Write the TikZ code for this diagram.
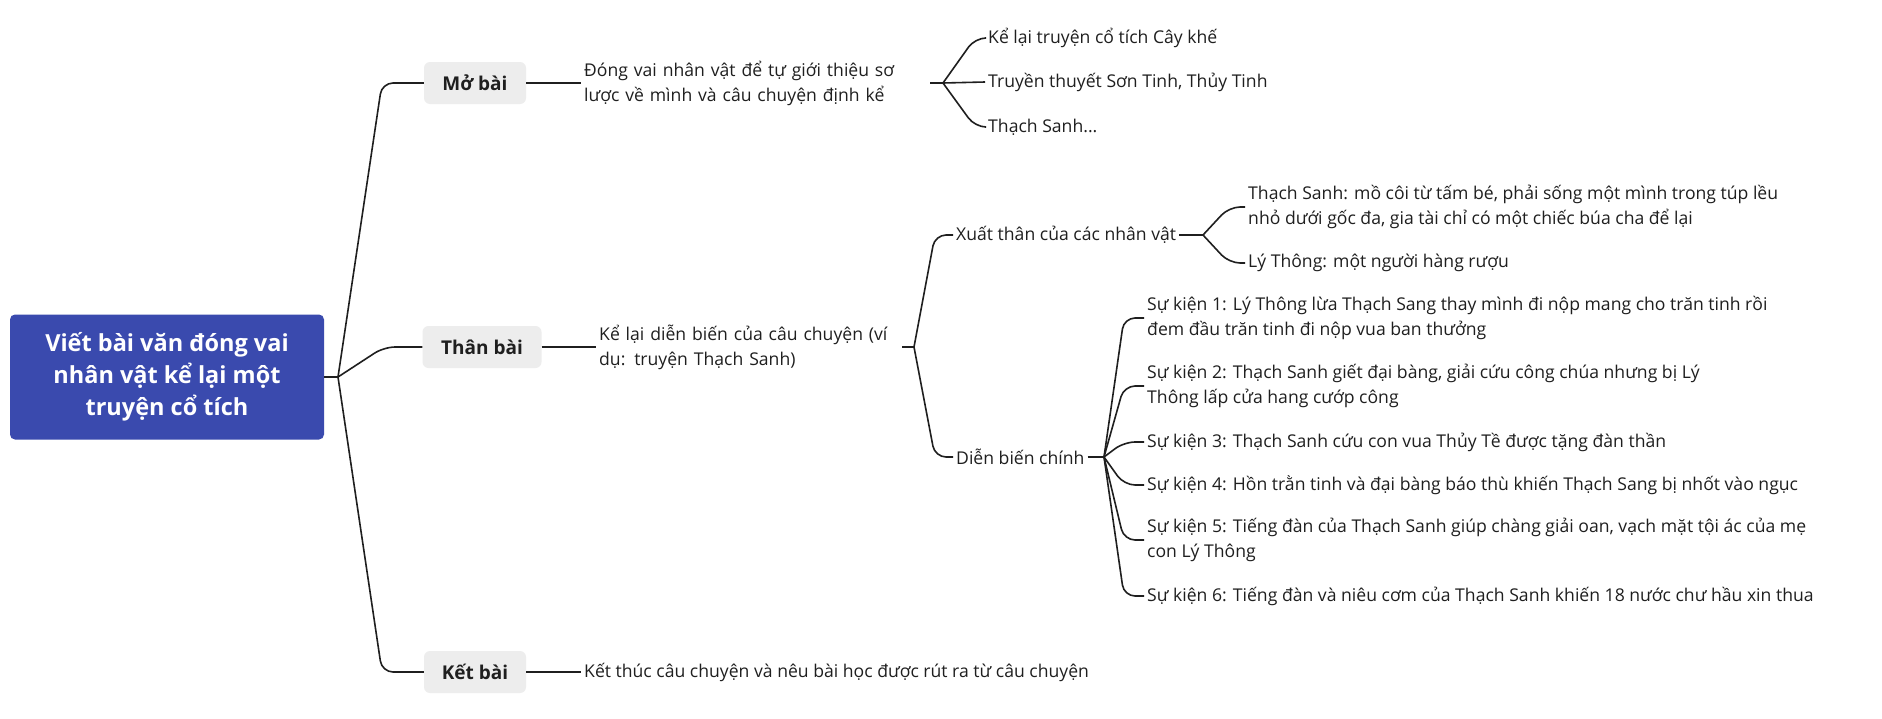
\documentclass[tikz,border=0pt]{standalone}
\usepackage{fontspec}
\setmainfont{Open Sans}
\definecolor{rootblue}{HTML}{3A4AAE}
\definecolor{boxgray}{HTML}{EDEDED}
\definecolor{ink}{HTML}{1F1F1F}
\begin{document}
\begin{tikzpicture}[x=1pt,y=-1pt,
  root/.style={fill=rootblue, rounded corners=5pt, text=white, font=\fontsize{23.5}{32}\selectfont\bfseries, align=center, minimum width=314pt, minimum height=125pt, inner sep=0pt},
  sec/.style={fill=boxgray, rounded corners=6pt, font=\fontsize{19}{22}\selectfont\bfseries, minimum height=42pt, inner sep=0pt, text=ink},
  leaf/.style={font=\fontsize{17.6}{25}\selectfont, align=left, anchor=west, inner sep=3pt, text=ink},
  conn/.style={draw=ink, line width=1.6pt, rounded corners=11pt},
]
\useasboundingbox[fill=white] (0,0) rectangle (1882,718);

% root and sections
\node[root] (root) at (167,377) {Viết bài văn đóng vai\\nhân vật kể lại một\\truyện cổ tích};
\node[sec, minimum width=102pt] (mo) at (475,83) {Mở bài};
\node[sec, minimum width=119pt] (than) at (482,347) {Thân bài};
\node[sec, minimum width=102pt] (ket) at (475,672) {Kết bài};
\coordinate (rj) at (338,377);
\draw[conn] (root.east) -- (rj);
\draw[conn] (rj) -- (382,83) -- (mo.west);
\draw[conn] (rj) -- (384,347) -- (than.west);
\draw[conn] (rj) -- (382,672) -- (ket.west);

% Mo bai
\node[leaf, text width=343pt] (mot) at (581,83) {Đóng vai nhân vật để tự giới thiệu sơ\\lược về mình và câu chuyện định kể};
\draw[conn] (mo.east) -- (mot.west);
\coordinate (mj) at (943,83);
\node[leaf] (m1) at (985,38) {Kể lại truyện cổ tích Cây khế};
\node[leaf] (m2) at (985,82) {Truyền thuyết Sơn Tinh, Thủy Tinh};
\node[leaf] (m3) at (985,127) {Thạch Sanh...};
\draw[conn] (mot.east) -- (mj);
\draw[conn] (mj) -- (975,38) -- (m1.west);
\draw[conn] (mj) -- (m2.west);
\draw[conn] (mj) -- (975,127) -- (m3.west);

% Than bai
\node[leaf, text width=300pt] (tht) at (596,347) {Kể lại diễn biến của câu chuyện (ví\\dụ: truyện Thạch Sanh)};
\draw[conn] (than.east) -- (tht.west);
\coordinate (tj) at (914,347);
\draw[conn] (tht.east) -- (tj);
\node[leaf] (xt) at (953,235) {Xuất thân của các nhân vật};
\node[leaf] (db) at (953,457) {Diễn biến chính};
\draw[conn] (tj) -- (935,235) -- (xt.west);
\draw[conn] (tj) -- (935,457) -- (db.west);

% Xuat than
\coordinate (xj) at (1203,235);
\node[leaf] (x1) at (1245,207) {Thạch Sanh: mồ côi từ tấm bé, phải sống một mình trong túp lều\\nhỏ dưới gốc đa, gia tài chỉ có một chiếc búa cha để lại};
\node[leaf] (x2) at (1245,263) {Lý Thông: một người hàng rượu};
\draw[conn] (xt.east) -- (xj);
\draw[conn] (xj) -- (1229,207) -- (x1.west);
\draw[conn] (xj) -- (1229,263) -- (x2.west);

% Dien bien chinh
\coordinate (dj) at (1104,457);
\node[leaf] (s1) at (1144,318) {Sự kiện 1: Lý Thông lừa Thạch Sang thay mình đi nộp mang cho trăn tinh rồi\\đem đầu trăn tinh đi nộp vua ban thưởng};
\node[leaf] (s2) at (1144,386) {Sự kiện 2: Thạch Sanh giết đại bàng, giải cứu công chúa nhưng bị Lý\\Thông lấp cửa hang cướp công};
\node[leaf] (s3) at (1144,442) {Sự kiện 3: Thạch Sanh cứu con vua Thủy Tề được tặng đàn thần};
\node[leaf] (s4) at (1144,485) {Sự kiện 4: Hồn trằn tinh và đại bàng báo thù khiến Thạch Sang bị nhốt vào ngục};
\node[leaf] (s5) at (1144,540) {Sự kiện 5: Tiếng đàn của Thạch Sanh giúp chàng giải oan, vạch mặt tội ác của mẹ\\con Lý Thông};
\node[leaf] (s6) at (1144,596) {Sự kiện 6: Tiếng đàn và niêu cơm của Thạch Sanh khiến 18 nước chư hầu xin thua};
\draw[conn] (db.east) -- (dj);
\draw[conn] (dj) -- (1124,318) -- (s1.west);
\draw[conn] (dj) -- (1124,386) -- (s2.west);
\draw[conn] (dj) -- (1124,442) -- (s3.west);
\draw[conn] (dj) -- (1124,485) -- (s4.west);
\draw[conn] (dj) -- (1124,540) -- (s5.west);
\draw[conn] (dj) -- (1124,596) -- (s6.west);

% Ket bai
\node[leaf] (kt) at (581,672) {Kết thúc câu chuyện và nêu bài học được rút ra từ câu chuyện};
\draw[conn] (ket.east) -- (kt.west);
\end{tikzpicture}
\end{document}
